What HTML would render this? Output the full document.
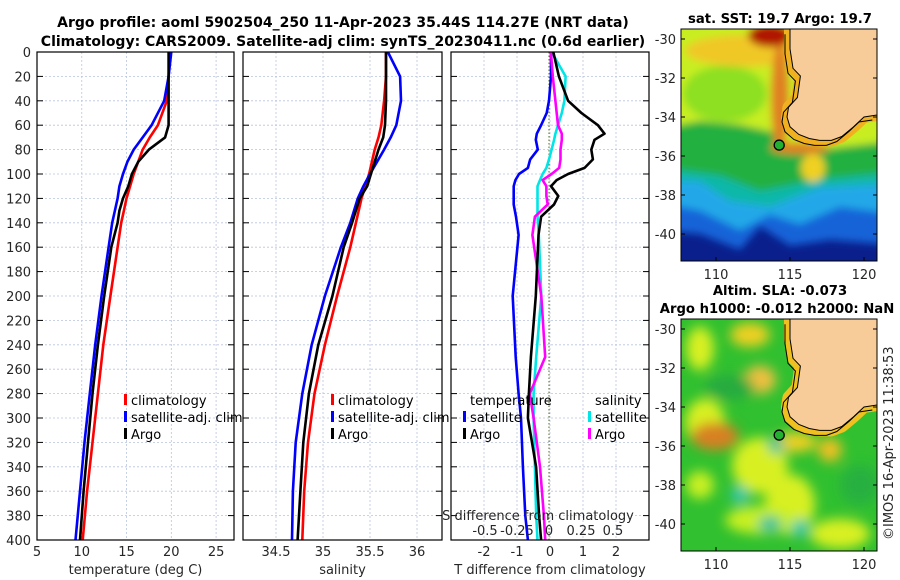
<!DOCTYPE html>
<html><head><meta charset="utf-8">
<style>
body{margin:0;background:#fff;}
svg{display:block;font-family:"DejaVu Sans","Liberation Sans",sans-serif;}
.tk{font-size:13px;fill:#262626;}
.tt{font-size:14px;font-weight:bold;fill:#000;}
.tt2{font-size:13.2px;font-weight:bold;fill:#000;}
.lg{font-size:13px;fill:#000;}
</style></head>
<body>
<svg id="fig" width="900" height="580" viewBox="0 0 900 580">
<defs>
<clipPath id="c1"><rect x="37" y="52" width="197" height="488"/></clipPath>
<clipPath id="c2"><rect x="243" y="52" width="199" height="488"/></clipPath>
<clipPath id="c3"><rect x="451" y="52" width="198" height="488"/></clipPath>
<clipPath id="m1"><rect x="681" y="29" width="196" height="232"/></clipPath>
<clipPath id="m2"><rect x="681" y="319" width="196" height="232"/></clipPath>
<filter id="bl" x="-20%" y="-20%" width="140%" height="140%"><feGaussianBlur stdDeviation="4"/></filter>
<filter id="bl2" x="-20%" y="-20%" width="140%" height="140%"><feGaussianBlur stdDeviation="6"/></filter>
</defs>
<text class="tt" x="343" y="27" text-anchor="middle">Argo profile: aoml 5902504_250 11-Apr-2023 35.44S 114.27E (NRT data)</text>
<text class="tt" x="343" y="46" text-anchor="middle">Climatology: CARS2009. Satellite-adj clim: synTS_20230411.nc (0.6d earlier)</text>
<g id="plots"></g>
<g id="maps"></g>
<text class="tk" transform="translate(893,540) rotate(-90)">©IMOS 16-Apr-2023 11:38:53</text>
</svg>
<script>
// ---- data ----
const depthT = [0,20,40,60,70,80,90,100,110,120,130,140,160,200,240,280,320,360,400];
const tempArgo = [19.7,19.7,19.7,19.7,19.3,17.5,16.3,15.6,15.2,14.6,14.2,14.0,13.3,12.5,11.8,11.2,10.7,10.2,9.8];
const tempClim = [19.8,19.7,19.5,18.5,17.6,16.8,16.3,15.8,15.4,15.0,14.7,14.4,14.0,13.2,12.4,11.8,11.2,10.6,10.1];
const tempSat  = [20.0,19.7,19.2,17.8,16.8,15.8,15.1,14.6,14.2,14.0,13.7,13.4,13.0,12.2,11.5,10.9,10.3,9.8,9.3];
const depthS = [0,20,40,60,70,80,100,110,120,140,160,200,240,280,320,360,400];
const salArgo = [35.67,35.67,35.67,35.66,35.64,35.59,35.51,35.47,35.39,35.31,35.22,35.10,34.95,34.85,34.79,34.76,34.73];
const salClim = [35.67,35.67,35.65,35.62,35.59,35.55,35.49,35.45,35.41,35.35,35.29,35.15,35.02,34.91,34.84,34.80,34.78];
const salSat  = [35.69,35.82,35.83,35.78,35.72,35.65,35.50,35.43,35.37,35.29,35.19,35.02,34.88,34.78,34.71,34.68,34.67];
const depthD = [0,20,40,50,60,67,72,80,88,95,100,105,110,118,125,135,150,200,250,280,300,340,380,400];
const dTArgo = [0.1,0.27,0.55,0.95,1.45,1.65,1.35,1.25,1.3,1.05,0.55,0.2,0.03,0.25,0.12,-0.27,-0.35,-0.43,-0.58,-0.64,-0.67,-0.42,-0.33,-0.27];
const dTSat  = [0.03,0.03,-0.03,-0.1,-0.27,-0.4,-0.43,-0.37,-0.6,-0.67,-0.94,-1.05,-1.1,-1.1,-1.1,-1.03,-0.95,-1.13,-1.04,-0.95,-0.88,-0.82,-0.75,-0.67];
const dSArgo = [0.015,0.03,0.05,0.06,0.07,0.1,0.1,0.09,0.09,0.08,0.02,-0.05,-0.02,-0.02,-0.01,-0.11,-0.13,-0.06,-0.03,-0.15,-0.12,-0.07,-0.04,-0.03];
const dSSat  = [0.02,0.13,0.12,0.1,0.07,0.05,0.04,0.02,0.0,-0.02,-0.05,-0.07,-0.09,-0.09,-0.09,-0.09,-0.08,-0.06,-0.1,-0.12,-0.12,-0.11,-0.1,-0.09];
const depthTicks = [0,20,40,60,80,100,120,140,160,180,200,220,240,260,280,300,320,340,360,380,400];
const tTicks = [5,10,15,20,25];
const sTicks = [34.5,35,35.5,36];
const dTTicks = [-2,-1,0,1,2];
const dSTicks = [-0.5,-0.25,0,0.25,0.5];
const dSTickLabels = ["-0.5","-0.25","0","0.25","0.5"];

const NS='http://www.w3.org/2000/svg';
function mk(tag,attrs,parent,txt){const e=document.createElementNS(NS,tag);for(const k in attrs)e.setAttribute(k,attrs[k]);if(txt!==undefined)e.textContent=txt;parent.appendChild(e);return e;}
const Y0=52,Y1=540;
const yD=d=>Y0+(d/400)*(Y1-Y0);
const plots=document.getElementById('plots');
function lin(d0,d1,p0,p1){return v=>p0+(v-d0)*(p1-p0)/(d1-d0);}
const P=[
 {x0:37,x1:234,sx:lin(5,27,37,234),clip:'c1',name:'temperature-panel'},
 {x0:243,x1:442,sx:lin(34.5,35,276,323),clip:'c2',name:'salinity-panel'},
 {x0:451,x1:649,sx:lin(-3,3,451,649),clip:'c3',name:'difference-panel'}];
const sxS=lin(0,0.5,549,613);
function frame(p,xt,xlab,showY){
 const g=mk('g',{},plots);
 
 
 depthTicks.forEach(d=>{
  mk('line',{x1:p.x0,x2:p.x1,y1:yD(d),y2:yD(d),stroke:'#b8c4e0','stroke-width':0.8,'stroke-dasharray':'2,2'},g);
  mk('line',{x1:p.x0,x2:p.x0+6,y1:yD(d),y2:yD(d),stroke:'#000'},g);
  mk('line',{x1:p.x1-6,x2:p.x1,y1:yD(d),y2:yD(d),stroke:'#000'},g);
  if(showY){const t=mk('text',{class:'tk',x:31,y:yD(d)+5,'text-anchor':'end'},g,String(d));
   }
 });
 xt.forEach(v=>{const x=p.sx(v);
  mk('line',{x1:x,x2:x,y1:Y0,y2:Y1,stroke:'#b8c4e0','stroke-width':0.8,'stroke-dasharray':'2,2'},g);
  const t=mk('text',{class:'tk',x:x,y:556,'text-anchor':'middle'},g,String(v));
  
 });
 const l=mk('text',{class:'tk',x:(p.x0+p.x1)/2,y:574,'text-anchor':'middle'},g,xlab);
 
 return g;
}
function frameBox(p){const r=mk('rect',{x:p.x0,y:Y0,width:p.x1-p.x0,height:Y1-Y0,fill:'none',stroke:'#000','stroke-width':1.2},plots);
 }
function line(p,xs,ds,sx,col,name){
 const pts=xs.map((v,i)=>sx(v).toFixed(1)+','+yD(ds[i]).toFixed(1)).join(' ');
 const e=mk('polyline',{points:pts,fill:'none',stroke:col,'stroke-width':2.6,'stroke-linejoin':'round','clip-path':'url(#'+p.clip+')'},plots);
 
}
function legend(x,y,col,txt,name){
 const g=mk('g',{},plots);
 
 if(col)mk('rect',{x:x-7,y:y-11,width:3,height:11,fill:col},g);
 mk('text',{class:'lg',x:x,y:y},g,txt);
}
frame(P[0],tTicks,'temperature (deg C)',true);
frame(P[1],sTicks,'salinity',false);
frame(P[2],dTTicks,'T difference from climatology',false);
mk('line',{x1:549,x2:549,y1:Y0,y2:Y1,stroke:'#556b2f','stroke-width':1,'stroke-dasharray':'1.5,2'},plots);
line(P[0],tempClim,depthT,P[0].sx,'#ff0000','temp-climatology-line');
line(P[0],tempSat,depthT,P[0].sx,'#0000ff','temp-satellite-line');
line(P[0],tempArgo,depthT,P[0].sx,'#000000','temp-argo-line');
line(P[1],salClim,depthS,P[1].sx,'#ff0000','sal-climatology-line');
line(P[1],salSat,depthS,P[1].sx,'#0000ff','sal-satellite-line');
line(P[1],salArgo,depthS,P[1].sx,'#000000','sal-argo-line');
line(P[2],dTSat,depthD,P[2].sx,'#0000ff','dT-satellite-line');
line(P[2],dSSat,depthD,sxS,'#00e5e5','dS-satellite-line');
line(P[2],dSArgo,depthD,sxS,'#ff00ff','dS-argo-line');
line(P[2],dTArgo,depthD,P[2].sx,'#000000','dT-argo-line');
P.forEach(frameBox);
legend(131,405,'#ff0000','climatology','legend-climatology');
legend(131,422,'#0000ff','satellite-adj. clim','legend-satellite-adj');
legend(131,439,'#000000','Argo','legend-argo');
legend(338,405,'#ff0000','climatology','legend-sal-climatology');
legend(338,422,'#0000ff','satellite-adj. clim','legend-sal-satellite-adj');
legend(338,439,'#000000','Argo','legend-sal-argo');
legend(470,405,null,'temperature','legend-temperature-header');
legend(470,422,'#0000ff','satellite','legend-t-satellite');
legend(470,439,'#000000','Argo','legend-t-argo');
legend(595,405,null,'salinity','legend-salinity-header');
legend(595,422,'#00e5e5','satellite','legend-s-satellite');
legend(595,439,'#ff00ff','Argo','legend-s-argo');
{const t=mk('text',{class:'tk',x:538,y:520,'text-anchor':'middle'},plots,'S difference from climatology');
 }
dSTicks.forEach((v,i)=>{const t=mk('text',{class:'tk',x:sxS(v),y:535,'text-anchor':'middle'},plots,dSTickLabels[i]);
 });

// ---- maps ----
const maps=document.getElementById('maps');
const lonX=lin(110,120,716,864);
function latY(off){return lin(-30,-40,39+off,234+off);}
const latTicks=[-30,-32,-34,-36,-38,-40];
const lonTicks=[110,115,120];
const coastLon=[115.0,115.0,115.2,115.7,115.5,114.9,114.8,115.0,115.6,116.3,117.0,117.8,118.5,119.3,120.0,120.9];
const coastLat=[-29.5,-30.5,-31.5,-31.9,-33.0,-33.5,-34.0,-34.5,-34.9,-35.1,-35.2,-35.2,-35.0,-34.5,-34.0,-33.9];
function map(off,clip,name,title1,title2,kind){
 const g=mk('g',{},maps);
 
 const Y=latY(off);
 const body=mk('g',{'clip-path':'url(#'+clip+')'},g);
 if(kind==='sst'){
  mk('rect',{x:681,y:29,width:196,height:232,fill:'#0a1f8c'},body);
  const b=mk('g',{filter:'url(#bl)'},body);
  mk('path',{d:`M660 ${Y(-39.8)} L700 ${Y(-40)} L740 ${Y(-40.8)} L760 ${Y(-39.6)} L790 ${Y(-40.6)} L830 ${Y(-40.3)} L900 ${Y(-40.6)} L900 ${Y(-29)} L660 ${Y(-29)}Z`,fill:'#1464d8'},b);
  mk('path',{d:`M660 ${Y(-38.4)} L700 ${Y(-38.8)} L740 ${Y(-39.8)} L770 ${Y(-39)} L800 ${Y(-39.5)} L840 ${Y(-38.6)} L900 ${Y(-39)} L900 ${Y(-29)} L660 ${Y(-29)}Z`,fill:'#20a8e8'},b);
  mk('path',{d:`M660 ${Y(-37.2)} L700 ${Y(-37.3)} L730 ${Y(-38.3)} L770 ${Y(-38.6)} L820 ${Y(-37.6)} L900 ${Y(-37.4)} L900 ${Y(-29)} L660 ${Y(-29)}Z`,fill:'#10b8a8'},b);
  mk('path',{d:`M660 ${Y(-36.6)} L720 ${Y(-37)} L760 ${Y(-37.8)} L820 ${Y(-37.2)} L900 ${Y(-36.8)} L900 ${Y(-29)} L660 ${Y(-29)}Z`,fill:'#22b040'},b);
  mk('path',{d:`M660 ${Y(-34.6)} L700 ${Y(-34.2)} L740 ${Y(-34.4)} L775 ${Y(-34.8)} L795 ${Y(-35.8)} L830 ${Y(-35.6)} L900 ${Y(-35.2)} L900 ${Y(-29)} L660 ${Y(-29)}Z`,fill:'#c8ee20'},b);
  mk('ellipse',{cx:725,cy:Y(-32.8),rx:42,ry:28,fill:'#8ee020'},b);
  mk('ellipse',{cx:745,cy:Y(-30.6),rx:60,ry:16,fill:'#f0c828'},b);
  mk('ellipse',{cx:780,cy:Y(-33),rx:9,ry:55,fill:'#e08020'},b);
  mk('ellipse',{cx:770,cy:Y(-29.8),rx:22,ry:12,fill:'#b01800'},b);
  mk('ellipse',{cx:813,cy:Y(-36.6),rx:12,ry:14,fill:'#f0d020'},b);
  mk('ellipse',{cx:800,cy:Y(-35.6),rx:30,ry:6,fill:'#e08020'},b);
 } else {
  mk('rect',{x:681,y:319,width:196,height:232,fill:'#30c030'},body);
  const b=mk('g',{filter:'url(#bl2)'},body);
  const blobs=[[700,-31,14,22,'#d8f020'],[750,-30.3,20,12,'#f0d020'],[760,-32.6,16,14,'#f0c040'],[705,-34.8,20,24,'#d8f020'],[715,-35.5,24,14,'#d88020'],[760,-37,28,28,'#d8f020'],[790,-39,25,30,'#d8f020'],[760,-39.8,35,14,'#c8f020'],[840,-40.5,30,15,'#d8f020'],[830,-36.2,12,12,'#f0c020'],[795,-35.8,22,10,'#f0d020'],[740,-38.5,9,9,'#30c8b0'],[770,-40,12,8,'#30c0a0'],[800,-40.2,9,9,'#30c8b0'],[776,-36,8,8,'#30c0a0'],[730,-33,25,12,'#28aa40'],[860,-38,20,20,'#28b040'],[700,-38,14,14,'#c8f020'],[845,-33.2,10,8,'#d8f020']];
  blobs.forEach(o=>mk('ellipse',{cx:o[0],cy:Y(o[1]),rx:o[2],ry:o[3],fill:o[4]},b));
 }
 const cpts=coastLon.map((l,i)=>lonX(l).toFixed(1)+','+Y(coastLat[i]).toFixed(1));
 mk('polyline',{points:cpts.join(' '),fill:'none',stroke:kind==='sst'?'#f0b020':'#f0c020','stroke-width':12,'stroke-linejoin':'round'},body);
 mk('polygon',{points:cpts.join(' ')+' 900,'+Y(-33.9)+' 900,'+Y(-29)+' '+lonX(115)+','+Y(-29),fill:'#f8cc98',stroke:'#000','stroke-width':1},body);
 const off2=coastLon.map((l,i)=>(lonX(l)-5).toFixed(1)+','+(Y(coastLat[i])+5).toFixed(1));
 mk('polyline',{points:off2.join(' '),fill:'none',stroke:'#000','stroke-width':1},body);
 const c=mk('circle',{cx:lonX(114.27),cy:Y(-35.44),r:5,fill:'#22b030',stroke:'#000','stroke-width':1.3},g);
 
 mk('rect',{x:681,y:29+off,width:196,height:232,fill:'none',stroke:'#000','stroke-width':1},g);
 latTicks.forEach(l=>{mk('line',{x1:681,x2:685,y1:Y(l),y2:Y(l),stroke:'#000'},g);mk('line',{x1:873,x2:877,y1:Y(l),y2:Y(l),stroke:'#000'},g);
  mk('text',{class:'tk',x:676,y:Y(l)+5,'text-anchor':'end'},g,String(l));});
 lonTicks.forEach(l=>{mk('line',{x1:lonX(l),x2:lonX(l),y1:257+off,y2:261+off,stroke:'#000'},g);
  mk('text',{class:'tk',x:lonX(l),y:279+off,'text-anchor':'middle'},g,String(l));});
 if(title2){
  mk('text',{class:'tt2',x:780,y:off+5,'text-anchor':'middle'},g,title1);
  mk('text',{class:'tt2',x:777,y:off+23,'text-anchor':'middle'},g,title2);
 } else {
  mk('text',{class:'tt2',x:780,y:off+23,'text-anchor':'middle'},g,title1);
 }
}
map(0,'m1','sst-map','sat. SST: 19.7 Argo: 19.7',null,'sst');
map(290,'m2','sla-map','Altim. SLA: -0.073','Argo h1000: -0.012 h2000: NaN','sla');
</script>
</body></html>
